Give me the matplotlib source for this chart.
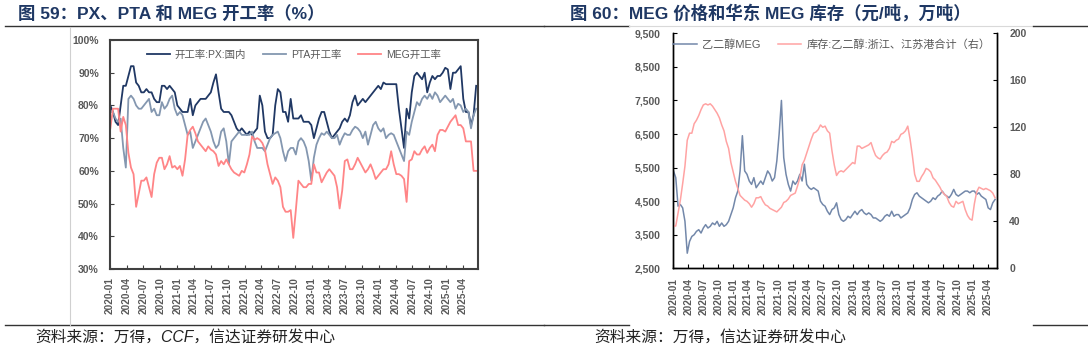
import matplotlib
matplotlib.use("Agg")
import matplotlib.pyplot as plt
from matplotlib.lines import Line2D
import pandas as pd

plt.rcParams['font.family'] = ['Liberation Sans', 'Noto Sans CJK SC', 'DejaVu Sans']
plt.rcParams['axes.unicode_minus'] = False

# ---------------- data: left chart (operating rates, %, biweekly samples) ----------------
left_start = '2020-01-03'
px_rate = [80, 78, 75, 74, 80, 86, 86, 89, 92, 92,
           87, 86, 84, 84, 85, 84, 84, 82, 81, 81,
           86, 86, 85, 86, 85, 84, 80, 79, 78, 78,
           78, 82, 77, 80, 81, 82, 82, 82, 83, 84,
           87, 89.5, 84, 79, 78, 78, 78, 77, 75, 73,
           72, 73, 72, 71, 72, 71, 72, 73, 83, 80,
           72, 70, 70, 71, 80, 85, 84, 78, 78, 75,
           82, 76, 76, 76, 77, 75, 75, 75, 74, 70,
           73, 76, 78, 78, 75, 72, 70, 71, 72, 73,
           75, 76, 75, 77, 81, 83, 80, 81, 82, 81,
           82, 83, 84, 85, 86, 85, 87, 86.5, 86.5, 86.5,
           86.5, 86.5, 79, 73, 67, 79, 76, 84, 89, 90,
           89, 88, 90, 84, 87, 89, 88, 89, 89, 90,
           91.5, 91, 85, 90, 90, 91, 92, 82, 78, 78,
           74, 77, 86]
pta_rate = [78, 78, 76, 75, 76, 67, 61, 82, 83, 82,
            80, 79, 79, 80, 81, 82, 78, 79, 77, 77,
            81, 79, 80, 82, 83, 79, 77, 78, 77, 74,
            71, 72, 67, 69, 71, 73, 75, 76, 74, 72,
            69, 67, 68, 72, 73, 69, 62, 69, 70, 71,
            72, 71, 71, 71, 71, 72, 69, 67, 67, 67,
            66, 68, 70, 71, 71.5, 72, 70, 66, 63, 66,
            67, 67, 65, 69, 70, 69, 67, 63, 57, 64,
            68, 70, 71.5, 71, 72, 71, 70, 70, 71, 68,
            70, 71.5, 71, 71, 72.5, 73.5, 73, 72, 70, 72,
            68, 71, 74, 75, 73, 72, 73, 70, 71, 71.5,
            71, 69, 67, 65, 63, 72, 71, 75, 78, 81,
            80, 82, 83, 82, 83.5, 82, 84, 83, 81, 82,
            83, 82, 81, 82, 79, 80.5, 80, 78, 79, 78,
            73, 77, 79]
meg_rate = [73, 79, 79, 79, 72, 76.5, 74, 65.5, 61, 59,
            49, 53, 57, 57, 58, 55, 52, 59, 62.5, 64,
            64, 60.5, 62, 64.5, 61, 61.5, 60.5, 61.5, 58.5, 63.5,
            71, 72.5, 73.5, 71.5, 69, 68, 67, 66, 67.5, 66.5,
            66, 65, 61.5, 63, 62, 63.5, 62, 60.5, 59.5, 59,
            58.5, 60, 59.5, 62, 65, 70.5, 69.5, 70, 69.5, 68.5,
            66.5, 62, 59, 56, 58, 57, 55, 49, 47.5, 47.5,
            48, 39.5, 48, 57, 56, 55, 55, 56, 56, 62,
            59.5, 59.5, 56.5, 58, 59.5, 60.5, 59.5, 58.5, 55, 48.5,
            54, 63, 63.5, 60.5, 60.5, 62, 64, 62.5, 61, 59.5,
            60.5, 62, 60, 57.5, 58.5, 59.5, 60.5, 60.5, 62, 66,
            62, 59, 59, 58.5, 57.5, 50.5, 63, 63.5, 66, 65,
            65, 66.5, 67.5, 65.5, 67, 68, 66, 71, 72.5, 72.5,
            72, 73.5, 75, 76, 77, 74, 74, 73, 69, 69,
            69, 60, 60]

# ---------------- data: right chart (MEG price yuan/t, East China stock 10kt) ----------------
right_start = '2020-01-02'
meg_price = [5400, 5200, 4350, 4400, 4300, 3900, 2950, 3300, 3450, 3500,
             3600, 3650, 3550, 3700, 3800, 3700, 3750, 3850, 3800, 3900,
             3750, 3850, 3750, 3800, 3900, 4100, 4300, 4600, 4800, 5400,
             6450, 5400, 5300, 5100, 5000, 5200, 4900, 5000, 5100, 5000,
             5200, 5400, 5300, 5100, 5200, 5700, 6500, 7500, 5800, 5300,
             5000, 4800, 5100, 5000, 5100, 5300, 5100, 5600, 5000, 4900,
             4850, 4900, 4850, 4800, 4500, 4400, 4350, 4200, 4100, 4250,
             4300, 4450, 4100, 3950, 3900, 3950, 4050, 4000, 4100, 4200,
             4100, 4200, 4250, 4150, 4100, 4150, 4100, 4000, 4000, 3950,
             3900, 3950, 4050, 4100, 4050, 4200, 4050, 4100, 4100, 4000,
             4050, 4100, 4150, 4300, 4550, 4700, 4750, 4650, 4600, 4550,
             4500, 4450, 4500, 4600, 4550, 4650, 4700, 4800, 4700, 4650,
             4600, 4700, 4850, 4700, 4650, 4700, 4750, 4800, 4800, 4750,
             4800, 4800, 4700, 4750, 4650, 4600, 4550, 4300, 4250, 4450,
             4550]
meg_stock = [36, 36, 47, 58, 72, 87, 109, 115, 115, 123,
             126, 130, 135, 139, 140, 139, 140, 138, 135, 132,
             128, 122, 117, 108, 102, 90, 82, 74, 68, 62,
             60, 58, 57, 55, 52, 55, 60, 60, 61, 57,
             54, 53, 51, 50, 49, 48, 50, 52, 56, 57,
             59, 62, 63, 64, 70, 77, 88, 92, 98, 104,
             110, 115, 116, 118, 122, 120, 121, 117, 115, 100,
             88, 79, 82, 83, 82, 84, 86, 88, 90, 89,
             104, 104, 102, 103, 104, 105, 107, 101, 96, 94,
             93, 96, 98, 99, 102, 108, 107, 109, 110, 114,
             115, 117, 121, 110, 96, 80, 74, 74, 78, 81,
             85, 84, 82, 77, 75, 72, 69, 65, 63, 61,
             56, 53, 52, 57, 55, 56, 57, 50, 45, 42,
             41, 55, 65, 69, 68, 67, 68, 67, 66, 64,
             60]

left_dates = pd.date_range(left_start, periods=len(px_rate), freq='14D')
right_dates = pd.date_range(right_start, periods=len(meg_price), freq='14D')
quarter_ticks = pd.date_range('2020-01-01', '2025-04-01', freq='QS')
quarter_labels = [d.strftime('%Y-%m') for d in quarter_ticks]

W, H = 1088, 349
fig = plt.figure(figsize=(W / 100, H / 100), dpi=100)
fig.patch.set_facecolor('white')

def fx(x):
    return x / W

def fy(y):
    return 1 - y / H

TICKC = '#595959'
NAVY = '#1F3864'

# ---------------- left chart ----------------
ax1 = fig.add_axes([fx(110), fy(269), (478 - 110) / W, (269 - 40) / H])
ax1.plot(left_dates, px_rate, color='#203864', lw=1.3, label='开工率:PX:国内')
ax1.plot(left_dates, pta_rate, color='#8497B0', lw=1.3, label='PTA开工率')
ax1.plot(left_dates, meg_rate, color='#FF8587', lw=1.3, label='MEG开工率')
ax1.set_ylim(30, 100)
ax1.set_xlim(pd.Timestamp('2020-01-01'), pd.Timestamp('2025-06-23'))
yt = list(range(30, 101, 10))
ax1.set_yticks(yt)
ax1.set_yticklabels([f'{v}%' for v in yt], fontsize=7.5, fontweight='bold', color=TICKC)
ax1.set_xticks(quarter_ticks)
ax1.set_xticklabels(quarter_labels, rotation=90, fontsize=7.2, fontweight='bold', color=TICKC)
ax1.tick_params(axis='both', direction='in', length=3, width=0.8, color='#404040')
ax1.tick_params(axis='y', pad=8)
ax1.tick_params(axis='x', pad=6)
for s in ax1.spines.values():
    s.set_color('#404040')
    s.set_linewidth(1.5)
leg1 = ax1.legend(loc='center', bbox_to_anchor=(0.5, 1 - 15 / 229), ncol=3, frameon=False,
                  fontsize=7.5, handlelength=2.2, handletextpad=0.5, columnspacing=1.6,
                  borderaxespad=0, borderpad=0)
for t in leg1.get_texts():
    t.set_color(TICKC)

# ---------------- right chart ----------------
ax2 = fig.add_axes([fx(673.3), fy(268.3), (996.7 - 673.3) / W, (268.3 - 33.3) / H])
l1, = ax2.plot(right_dates, meg_price, color='#7388AA', lw=1.1, label='乙二醇MEG')
ax3 = ax2.twinx()
l2, = ax3.plot(right_dates, meg_stock, color='#FFA3A3', lw=1.1, label='库存:乙二醇:浙江、江苏港合计（右）')
ax2.set_ylim(2500, 9500)
ax3.set_ylim(0, 200)
ax2.set_xlim(pd.Timestamp('2020-01-01'), pd.Timestamp('2025-05-25'))
pt = list(range(2500, 9501, 1000))
ax2.set_yticks(pt)
ax2.set_yticklabels([f'{v:,}' for v in pt], fontsize=7.5, fontweight='bold', color=TICKC)
st = list(range(0, 201, 40))
ax3.set_yticks(st)
ax3.set_yticklabels([str(v) for v in st], fontsize=7.5, fontweight='bold', color=TICKC)
ax2.set_xticks(quarter_ticks)
ax2.set_xticklabels(quarter_labels, rotation=90, fontsize=7.2, fontweight='bold', color=TICKC)
for a in (ax2, ax3):
    a.tick_params(axis='both', direction='in', length=3, width=0.8, color='black')
    a.spines['top'].set_visible(False)
    for s in ('left', 'right', 'bottom'):
        a.spines[s].set_color('black')
        a.spines[s].set_linewidth(1.0)
ax2.tick_params(axis='y', pad=9)
ax3.tick_params(axis='y', pad=9)
ax2.tick_params(axis='x', pad=7)
leg2 = ax3.legend([l1, l2], [l1.get_label(), l2.get_label()], loc='center',
                  bbox_to_anchor=(0.49, 1 - 11.7 / 235), ncol=2, frameon=False,
                  fontsize=8, handlelength=2.1, handletextpad=0.45, columnspacing=1.6,
                  borderaxespad=0, borderpad=0)
for t in leg2.get_texts():
    t.set_color(TICKC)

# ---------------- titles, rules, sources ----------------
fig.text(fx(18), fy(13), '图 59：PX、PTA 和 MEG 开工率（%）', fontsize=12.5,
         fontweight='bold', color=NAVY, va='center', ha='left')
fig.text(fx(570), fy(13), '图 60：MEG 价格和华东 MEG 库存（元/吨，万吨）', fontsize=12.5,
         fontweight='bold', color=NAVY, va='center', ha='left')

def hline(x0, x1, y, color, lw):
    fig.add_artist(Line2D([fx(x0), fx(x1)], [fy(y), fy(y)], color=color, lw=lw))

def vline(x, y0, y1, color, lw):
    fig.add_artist(Line2D([fx(x), fx(x)], [fy(y0), fy(y1)], color=color, lw=lw))

hline(5, 544, 25.5, '#333333', 1.0)
hline(544, 629, 25.5, '#333333', 1.0)
hline(629, 1033, 25.5, '#D9D9D9', 0.8)
hline(1033, 1088, 25.5, '#333333', 1.0)
hline(5, 544, 325, '#333333', 1.0)
hline(544, 629, 325, '#333333', 1.0)
hline(1033, 1088, 325, '#333333', 1.0)
vline(70, 27, 325, '#D0D0D0', 0.8)

fig.text(fx(35), fy(337), '资料来源：万得，CCF，信达证券研发中心', fontsize=11.3,
         style='italic', color='#222222', va='center', ha='left')
fig.text(fx(594), fy(337), '资料来源：万得，信达证券研发中心', fontsize=11.3,
         style='italic', color='#222222', va='center', ha='left')

fig.savefig('out.png', dpi=100, facecolor='white')
